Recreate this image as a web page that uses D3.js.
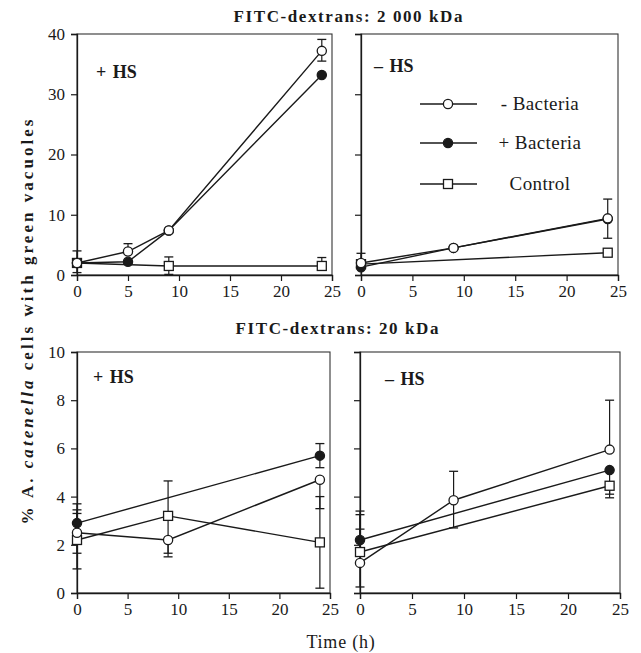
<!DOCTYPE html>
<html>
<head>
<meta charset="utf-8">
<script src="https://cdn.jsdelivr.net/npm/d3@7"></script>
<style>
  body { margin: 0; background: #fff; }
  svg text { font-family: "Liberation Serif", "Times New Roman", serif; fill: #1a1a1a; }
</style>
</head>
<body>
<div id="chart"></div>
<script>
// Axis ticks
const xTicks = [0, 5, 10, 15, 20, 25];
const yTicksBig = [0, 10, 20, 30, 40];
const yTicksSmall = [0, 2, 4, 6, 8, 10];

// Legend
const seriesNames = ['- Bacteria', '+ Bacteria', 'Control'];
const seriesKeys = ['minus', 'plus', 'control'];
// markers drawn back to front so open circles stay on top
const drawOrder = ['control', 'plus', 'minus'];

// FITC-dextrans 2 000 kDa, + HS
const bigPosMinusT = [0, 5, 9, 24];
const bigPosMinusV = [2.0, 3.9, 7.4, 37.2];
const bigPosMinusHi = [4.0, 5.2, null, 39.1];
const bigPosMinusLo = [null, null, null, 35.5];
const bigPosPlusT = [0, 5, 9, 24];
const bigPosPlusV = [2.0, 2.2, 7.4, 33.2];
const bigPosCtrlT = [0, 9, 24];
const bigPosCtrlV = [2.0, 1.5, 1.5];
const bigPosCtrlHi = [null, 3.0, 2.9];
const bigPosCtrlLo = [0.4, 0.1, null];

// FITC-dextrans 2 000 kDa, - HS
const bigNegMinusT = [0, 9, 24];
const bigNegMinusV = [2.0, 4.5, 9.4];
const bigNegMinusHi = [3.6, null, 12.6];
const bigNegMinusLo = [null, null, 6.1];
const bigNegPlusT = [0, 9, 24];
const bigNegPlusV = [1.3, 4.5, 9.3];
const bigNegCtrlT = [0, 24];
const bigNegCtrlV = [1.8, 3.7];

// FITC-dextrans 20 kDa, + HS
const smallPosMinusT = [0, 9, 24];
const smallPosMinusV = [2.5, 2.2, 4.7];
const smallPosMinusHi = [3.45, null, null];
const smallPosMinusLo = [1.0, 1.5, 3.5];
const smallPosPlusT = [0, 24];
const smallPosPlusV = [2.9, 5.7];
const smallPosPlusHi = [3.7, 6.2];
const smallPosPlusLo = [null, 5.2];
const smallPosCtrlT = [0, 9, 24];
const smallPosCtrlV = [2.2, 3.2, 2.1];
const smallPosCtrlHi = [3.3, 4.65, 4.0];
const smallPosCtrlLo = [1.65, 1.65, 0.2];

// FITC-dextrans 20 kDa, - HS
const smallNegMinusT = [0, 9, 24];
const smallNegMinusV = [1.25, 3.85, 5.95];
const smallNegMinusHi = [2.65, 5.05, 8.0];
const smallNegMinusLo = [0.25, 2.7, null];
const smallNegPlusT = [0, 24];
const smallNegPlusV = [2.2, 5.1];
const smallNegPlusHi = [3.4, null];
const smallNegPlusLo = [null, 4.1];
const smallNegCtrlT = [0, 24];
const smallNegCtrlV = [1.7, 4.45];
const smallNegCtrlHi = [3.25, null];
const smallNegCtrlLo = [null, 3.95];

// pack arrays into points
function pts(t, v, hi, lo) {
    return t.map((d, i) => ({ t: d, v: v[i], hi: hi ? hi[i] : null, lo: lo ? lo[i] : null }));
}

const panels = [
    { left: 77, right: 332, top: 34, bottom: 275, yMax: 40, yTicks: yTicksBig, yLabels: true, tag: '+ HS', tagX: 96, tagY: 78,
      series: { minus: pts(bigPosMinusT, bigPosMinusV, bigPosMinusHi, bigPosMinusLo),
                plus: pts(bigPosPlusT, bigPosPlusV),
                control: pts(bigPosCtrlT, bigPosCtrlV, bigPosCtrlHi, bigPosCtrlLo) } },
    { left: 361, right: 618, top: 34, bottom: 275, yMax: 40, yTicks: yTicksBig, yLabels: false, tag: '\u2013 HS', tagX: 374, tagY: 72,
      series: { minus: pts(bigNegMinusT, bigNegMinusV, bigNegMinusHi, bigNegMinusLo),
                plus: pts(bigNegPlusT, bigNegPlusV),
                control: pts(bigNegCtrlT, bigNegCtrlV) }, legend: true },
    { left: 77, right: 330, top: 352, bottom: 593, yMax: 10, yTicks: yTicksSmall, yLabels: true, tag: '+ HS', tagX: 93, tagY: 383,
      series: { minus: pts(smallPosMinusT, smallPosMinusV, smallPosMinusHi, smallPosMinusLo),
                plus: pts(smallPosPlusT, smallPosPlusV, smallPosPlusHi, smallPosPlusLo),
                control: pts(smallPosCtrlT, smallPosCtrlV, smallPosCtrlHi, smallPosCtrlLo) } },
    { left: 360, right: 620, top: 352, bottom: 593, yMax: 10, yTicks: yTicksSmall, yLabels: false, tag: '\u2013 HS', tagX: 385, tagY: 385,
      series: { minus: pts(smallNegMinusT, smallNegMinusV, smallNegMinusHi, smallNegMinusLo),
                plus: pts(smallNegPlusT, smallNegPlusV, smallNegPlusHi, smallNegPlusLo),
                control: pts(smallNegCtrlT, smallNegCtrlV, smallNegCtrlHi, smallNegCtrlLo) } }
];

const ink = '#1a1a1a';
const svg = d3.select('#chart').append('svg')
    .attr('width', 641)
    .attr('height', 653);

function drawMarker(g, key, x, y) {
    if (key === 'control') {
        g.append('rect')
            .attr('x', x - 4.5).attr('y', y - 4.5)
            .attr('width', 9).attr('height', 9)
            .attr('fill', '#fff').attr('stroke', ink).attr('stroke-width', 1.3);
    } else {
        g.append('circle')
            .attr('cx', x).attr('cy', y).attr('r', 4.6)
            .attr('fill', key === 'plus' ? ink : '#fff')
            .attr('stroke', ink).attr('stroke-width', 1.3);
    }
}

panels.forEach(p => {
    const x = d3.scaleLinear().domain([0, 25]).range([p.left, p.right]);
    const y = d3.scaleLinear().domain([0, p.yMax]).range([p.bottom, p.top]);
    const g = svg.append('g');

    // frame
    g.append('rect')
        .attr('x', p.left).attr('y', p.top)
        .attr('width', p.right - p.left).attr('height', p.bottom - p.top)
        .attr('fill', 'none').attr('stroke', '#333').attr('stroke-width', 1.1);

    // axes
    const xAxis = g.append('g')
        .attr('transform', `translate(0,${p.bottom})`)
        .call(d3.axisBottom(x).tickValues(xTicks).tickSize(6).tickPadding(4));
    const yAxis = g.append('g')
        .attr('transform', `translate(${p.left},0)`)
        .call(d3.axisLeft(y).tickValues(p.yTicks).tickSize(6).tickPadding(6)
            .tickFormat(p.yLabels ? d3.format('d') : ''));
    [xAxis, yAxis].forEach(a => {
        a.select('.domain').attr('stroke', ink).attr('stroke-width', 1.3);
        a.selectAll('.tick line').attr('stroke', ink).attr('stroke-width', 1.2);
        a.selectAll('.tick text').attr('font-size', 17).attr('fill', '#222')
            .style('font-family', '"Liberation Serif", serif');
    });

    const line = d3.line().x(d => x(d.t)).y(d => y(d.v));

    // lines
    drawOrder.forEach(k => {
        g.append('path')
            .datum(p.series[k])
            .attr('d', line)
            .attr('fill', 'none')
            .attr('stroke', ink)
            .attr('stroke-width', 1.4);
    });

    // error bars
    drawOrder.forEach(k => {
        p.series[k].forEach(d => {
            [d.hi, d.lo].forEach(end => {
                if (end === null || end === undefined) return;
                g.append('line')
                    .attr('x1', x(d.t)).attr('x2', x(d.t))
                    .attr('y1', y(d.v)).attr('y2', y(end))
                    .attr('stroke', ink).attr('stroke-width', 1.2);
                g.append('line')
                    .attr('x1', x(d.t) - 4.5).attr('x2', x(d.t) + 4.5)
                    .attr('y1', y(end)).attr('y2', y(end))
                    .attr('stroke', ink).attr('stroke-width', 1.3);
            });
        });
    });

    // markers
    drawOrder.forEach(k => {
        p.series[k].forEach(d => drawMarker(g, k, x(d.t), y(d.v)));
    });

    // panel tag
    g.append('text')
        .attr('x', p.tagX).attr('y', p.tagY)
        .attr('font-size', 18).attr('font-weight', 'bold')
        .attr('word-spacing', 2)
        .text(p.tag);

    if (p.legend) {
        const rows = [104, 143, 184];
        seriesKeys.forEach((k, i) => {
            const lg = svg.append('g');
            lg.append('line')
                .attr('x1', 420).attr('x2', 477)
                .attr('y1', rows[i]).attr('y2', rows[i])
                .attr('stroke', ink).attr('stroke-width', 1.3);
            drawMarker(lg, k, 448, rows[i]);
            lg.append('text')
                .attr('x', 540).attr('y', rows[i] + 6)
                .attr('text-anchor', 'middle')
                .attr('font-size', 19)
                .attr('letter-spacing', 0.4)
                .text(seriesNames[i]);
        });
    }
});

// section titles
svg.append('text')
    .attr('x', 348).attr('y', 22)
    .attr('text-anchor', 'middle')
    .attr('font-size', 17).attr('font-weight', 'bold')
    .attr('textLength', 229).attr('lengthAdjust', 'spacing')
    .text('FITC-dextrans: 2 000 kDa');
svg.append('text')
    .attr('x', 337).attr('y', 334)
    .attr('text-anchor', 'middle')
    .attr('font-size', 17).attr('font-weight', 'bold')
    .attr('textLength', 203).attr('lengthAdjust', 'spacing')
    .text('FITC-dextrans: 20 kDa');

// x axis title
svg.append('text')
    .attr('x', 341).attr('y', 648)
    .attr('text-anchor', 'middle')
    .attr('font-size', 18)
    .attr('letter-spacing', 0.8)
    .text('Time (h)');

// y axis title
const yTitle = svg.append('text')
    .attr('transform', 'translate(33,322) rotate(-90)')
    .attr('text-anchor', 'middle')
    .attr('font-size', 17)
    .attr('font-weight', 'bold')
    .attr('textLength', 405).attr('lengthAdjust', 'spacing');
yTitle.append('tspan').text('% A. ');
yTitle.append('tspan').attr('font-style', 'italic').text('catenella');
yTitle.append('tspan').text('  cells with green vacuoles');
</script>
</body>
</html>
